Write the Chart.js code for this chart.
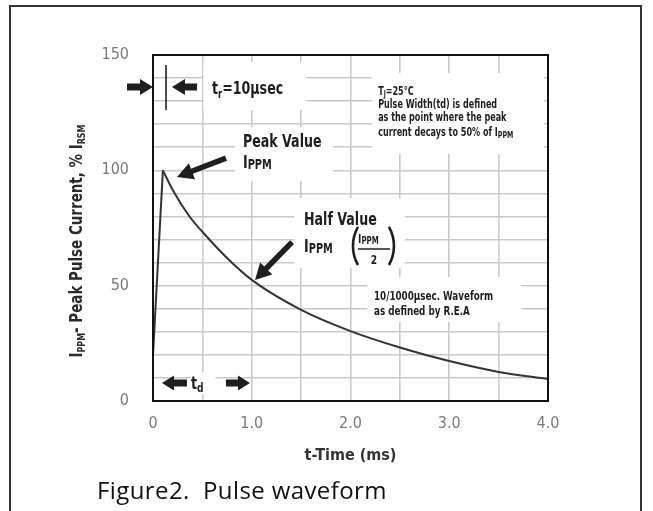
<!DOCTYPE html>
<html lang="en">
<head>
<meta charset="UTF-8">
<title>Figure2. Pulse waveform</title>
<script src="https://cdn.jsdelivr.net/npm/chart.js"></script>
<style>
  html, body { margin: 0; padding: 0; background: #fff; }
  #wrap { position: relative; width: 653px; height: 511px; overflow: hidden; }
  #frame { position: absolute; left: 9px; top: 5px; width: 629px; height: 530px; border: 2px solid #333; }
  #chart { position: absolute; left: 0; top: 0; }
  #caption { position: absolute; left: 97px; top: 473px; font: 24px "Open Sans", sans-serif; letter-spacing: 0.4px; color: #111; white-space: pre; }
</style>
</head>
<body>
<div id="wrap">
  <div id="frame"></div>
  <canvas id="chart" width="653" height="511"></canvas>
  <div id="caption">Figure2.  Pulse waveform</div>
</div>
<script>
// values: time in ms, current in % of peak
const riseTime = [0, 0.1];
const riseCurrent = [20, 100];
const decayTime = [0.1, 0.2, 0.37, 0.55, 0.75, 1.0, 1.5, 2.0, 2.5, 3.0, 3.5, 4.0];
const decayCurrent = [100, 91.5, 80, 71, 62, 52.5, 39.5, 30.3, 23.2, 17.3, 12.6, 9.5];
const xTickLabels = {0: '0', 1: '1.0', 2: '2.0', 3: '3.0', 4: '4.0'};
const yTickLabels = [0, 50, 100, 150];

const NARROW = '"Liberation Sans Narrow", "DejaVu Sans Condensed", "Liberation Sans", sans-serif';
const INK = '#1e1e1e';
const SQUEEZE = 0.78; // the original lettering is a tight condensed face

const toPoints = (xs, ys) => xs.map((x, i) => ({x: x, y: ys[i]}));

// draw a run of text pieces [text, size, dy] left to right, squeezed sideways
function richText(ctx, parts, x, y, align, sx) {
  sx = sx || SQUEEZE;
  let total = 0;
  parts.forEach(p => { ctx.font = 'bold ' + p[1] + 'px ' + NARROW; total += ctx.measureText(p[0]).width; });
  ctx.save();
  ctx.translate(x, y);
  ctx.scale(sx, 1);
  let cx = align === 'center' ? -total / 2 : 0;
  parts.forEach(p => {
    ctx.font = 'bold ' + p[1] + 'px ' + NARROW;
    ctx.fillText(p[0], cx, p[2] || 0);
    cx += ctx.measureText(p[0]).width;
  });
  ctx.restore();
}

function arrow(ctx, x1, y1, x2, y2, shaft, headLen, headW) {
  const a = Math.atan2(y2 - y1, x2 - x1), len = Math.hypot(x2 - x1, y2 - y1);
  ctx.save();
  ctx.translate(x1, y1);
  ctx.rotate(a);
  ctx.beginPath();
  ctx.moveTo(0, -shaft / 2);
  ctx.lineTo(len - headLen, -shaft / 2);
  ctx.lineTo(len - headLen, -headW / 2);
  ctx.lineTo(len, 0);
  ctx.lineTo(len - headLen, headW / 2);
  ctx.lineTo(len - headLen, shaft / 2);
  ctx.lineTo(0, shaft / 2);
  ctx.closePath();
  ctx.fill();
  ctx.restore();
}

// white boxes behind the notes (t from, t to, current top, current bottom)
const noteBoxes = [
  [0.51, 1.55, 147, 126.2],
  [2.22, 3.96, 142.2, 107.1],
  [0.83, 1.82, 118.8, 95.4],
  [1.43, 2.55, 88, 57.7],
  [2.17, 3.73, 53.8, 34.2],
  [0.38, 0.63, 12.6, 3.0]
];

const notes = {
  id: 'notes',
  beforeDatasetsDraw(chart) {
    const ctx = chart.ctx, X = v => chart.scales.x.getPixelForValue(v), Y = v => chart.scales.y.getPixelForValue(v);
    ctx.save();
    ctx.fillStyle = '#fff';
    noteBoxes.forEach(b => ctx.fillRect(X(b[0]), Y(b[2]), X(b[1]) - X(b[0]), Y(b[3]) - Y(b[2])));
    ctx.restore();
  },
  afterDatasetsDraw(chart) {
    const ctx = chart.ctx, a = chart.chartArea;
    const X = v => chart.scales.x.getPixelForValue(v), Y = v => chart.scales.y.getPixelForValue(v);
    ctx.save();
    ctx.fillStyle = INK;
    ctx.strokeStyle = INK;
    ctx.textBaseline = 'alphabetic';
    ctx.textAlign = 'left';

    // rise time marker
    arrow(ctx, X(-0.263), Y(136.1), X(0), Y(136.1), 7, 13, 16);
    arrow(ctx, X(0.446), Y(136.1), X(0.192), Y(136.1), 7, 13, 16);
    ctx.lineWidth = 1.6;
    ctx.beginPath();
    ctx.moveTo(X(0.132), Y(145.7));
    ctx.lineTo(X(0.132), Y(126.2));
    ctx.stroke();
    richText(ctx, [['t', 18], ['r', 12, 4], ['=10\u00b5sec', 18]], X(0.597), Y(133.3));

    // conditions note
    richText(ctx, [['T', 11.5], ['J', 8, 2], ['=25\u00b0C', 11.5]], X(2.28), Y(132.7));
    richText(ctx, [['Pulse Width(td) is defined', 11.5]], X(2.28), Y(127.0));
    richText(ctx, [['as the point where the peak', 11.5]], X(2.28), Y(121.4));
    richText(ctx, [['current decays to 50% of I', 11.5], ['PPM', 9, 2]], X(2.28), Y(114.9));

    // peak value
    richText(ctx, [['Peak Value', 18]], X(0.911), Y(110.3));
    richText(ctx, [['I', 18], ['PPM', 14, 1]], X(0.911), Y(100.8));
    arrow(ctx, X(0.739), Y(105.3), X(0.243), Y(97.1), 5.5, 16, 17);

    // half value
    richText(ctx, [['Half Value', 18]], X(1.529), Y(76.5));
    richText(ctx, [['I', 18], ['PPM', 14, 1]], X(1.529), Y(64.4));
    arrow(ctx, X(1.408), Y(68.9), X(1.033), Y(52.5), 5.5, 16, 17);
    richText(ctx, [['I', 13], ['PPM', 10, 1]], X(2.076), Y(68.5));
    ctx.lineWidth = 1.5;
    ctx.beginPath();
    ctx.moveTo(X(2.076), Y(65.9));
    ctx.lineTo(X(2.40), Y(65.9));
    ctx.stroke();
    richText(ctx, [['2', 13]], X(2.238), Y(59.4), 'center');
    // parentheses round the fraction
    const cy = Y(67.2), r = 38.6, sw = 0.515;
    ctx.lineWidth = 2.6;
    ctx.beginPath();
    ctx.arc(X(2.025) + r, cy, r, Math.PI - sw, Math.PI + sw);
    ctx.stroke();
    ctx.beginPath();
    ctx.arc(X(2.44) - r, cy, r, -sw, sw);
    ctx.stroke();

    // waveform note
    richText(ctx, [['10/1000\u00b5sec. Waveform', 12.5]], X(2.238), Y(44.0));
    richText(ctx, [['as defined by R.E.A', 12.5]], X(2.238), Y(37.5));

    // decay time marker
    arrow(ctx, X(0.344), Y(7.8), X(0.091), Y(7.8), 7, 12, 15);
    arrow(ctx, X(0.739), Y(7.8), X(0.982), Y(7.8), 7, 12, 15);
    richText(ctx, [['t', 18], ['d', 13, 3]], X(0.385), Y(5.2));

    // plot frame
    ctx.lineWidth = 2;
    ctx.strokeStyle = '#111';
    ctx.strokeRect(a.left, a.top, a.right - a.left, a.bottom - a.top);

    // y axis title with subscripts
    ctx.translate(76, 241);
    ctx.rotate(-Math.PI / 2);
    ctx.fillStyle = '#2a2a2a';
    richText(ctx, [['I', 17], ['PPM', 10, 3], ['- Peak Pulse Current, % I', 17], ['RSM', 10, 3]], 0, 6, 'center', 0.88);
    ctx.restore();
  }
};

new Chart(document.getElementById('chart'), {
  type: 'scatter',
  data: {
    datasets: [
      {
        data: toPoints(riseTime, riseCurrent),
        showLine: true,
        borderColor: '#333',
        borderWidth: 2,
        pointRadius: 0,
        tension: 0
      },
      {
        data: toPoints(decayTime, decayCurrent),
        showLine: true,
        cubicInterpolationMode: 'monotone',
        borderColor: '#333',
        borderWidth: 2,
        pointRadius: 0
      }
    ]
  },
  options: {
    responsive: false,
    animation: false,
    layout: { padding: { top: 55, right: 105, bottom: 0, left: 0 } },
    plugins: { legend: { display: false }, tooltip: { enabled: false } },
    scales: {
      x: {
        type: 'linear',
        min: 0,
        max: 4,
        afterFit: s => { s.height = 110; },
        ticks: {
          stepSize: 0.5,
          autoSkip: false,
          maxRotation: 0,
          padding: 13,
          color: '#7a7a7a',
          font: { family: NARROW, size: 16 },
          callback: v => (v in xTickLabels ? xTickLabels[v] : '')
        },
        grid: { color: '#c9c9c9', lineWidth: 1.6, drawTicks: false },
        border: { display: false },
        title: {
          display: true,
          text: 't-Time (ms)',
          color: '#333',
          font: { family: NARROW, size: 16, weight: 'bold' },
          padding: { top: 0, bottom: 46 }
        }
      },
      y: {
        min: 0,
        max: 150,
        afterFit: s => { s.width = 153; },
        ticks: {
          stepSize: 10,
          autoSkip: false,
          padding: 24,
          color: '#7a7a7a',
          font: { family: NARROW, size: 16 },
          callback: v => (yTickLabels.includes(v) ? String(v) : '')
        },
        grid: { color: '#c9c9c9', lineWidth: 1.6, drawTicks: false },
        border: { display: false }
      }
    }
  },
  plugins: [notes]
});
</script>
</body>
</html>
